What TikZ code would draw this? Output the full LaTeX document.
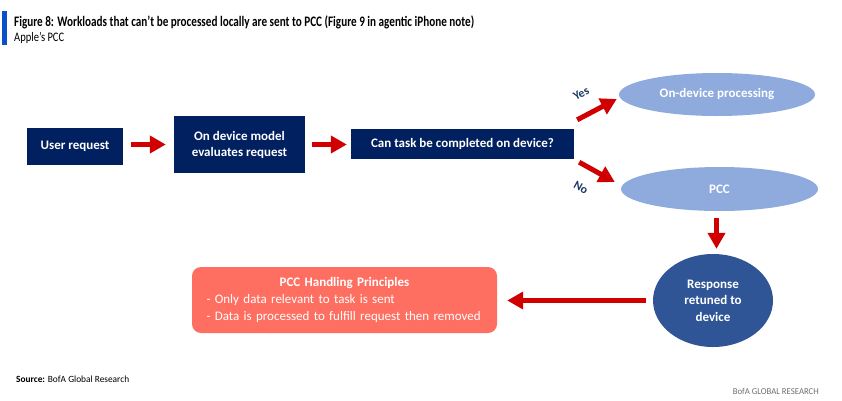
\documentclass[tikz,border=0pt]{standalone}
\usepackage{graphicx}
\usepackage{fontspec}
\setmainfont{Carlito}
\usetikzlibrary{arrows.meta,shapes.geometric}
\definecolor{bofanavy}{HTML}{002060}
\definecolor{lightblue}{HTML}{8FAADC}
\definecolor{respblue}{HTML}{2F5597}
\definecolor{salmon}{HTML}{FF6F61}
\definecolor{arrowred}{HTML}{D00000}
\definecolor{barblue}{HTML}{0A50C8}
\definecolor{lblnavy}{HTML}{1F3864}
\definecolor{brandgray}{HTML}{6E6E6E}

\begin{document}
\begin{tikzpicture}[x=1pt, y=-1pt,
        navybox/.style={rectangle, fill=bofanavy, text=white, align=center, inner sep=0pt,
            font=\bfseries\fontsize{13}{16}\selectfont},
        bluebubble/.style={ellipse, fill=lightblue, text=white, inner sep=0pt,
            font=\bfseries\fontsize{13}{16}\selectfont},
        redarrow/.style={arrowred, line width=5pt, -{Triangle[length=16pt, width=17pt]}},
        yesno/.style={text=lblnavy, inner sep=1pt, sloped,
            font=\bfseries\fontsize{12}{14}\selectfont}]
        \useasboundingbox (0,0) rectangle (842,400);

        % Heading
        \fill[barblue] (2,11) rectangle (7,45);
        \node[anchor=base west, inner sep=0pt, font=\bfseries\fontsize{14.5}{17}\selectfont] (title) at (14,26)
            {\resizebox{460pt}{\height}{Figure 8: Workloads that can't be processed locally are sent to PCC (Figure 9 in agentic iPhone note)}};
        \node[anchor=base west, inner sep=0pt, font=\fontsize{13}{15}\selectfont] (subtitle) at (14,41.5)
            {\resizebox{50pt}{\height}{Apple's PCC}};

        % Top row
        \node[navybox, minimum width=96pt, minimum height=37pt] (user) at (75,146.5) {User request};
        \node[navybox, minimum width=131pt, minimum height=57pt] (model) at (239.5,144.5) {On device model\\evaluates request};
        \node[navybox, minimum width=223pt, minimum height=30pt] (task) at (462.5,144) {Can task be completed on device?};

        % Outcomes
        \node[bluebubble, minimum width=196pt, minimum height=43pt] (ondevice) at (717,94.5) {On-device processing};
        \node[bluebubble, minimum width=197pt, minimum height=44pt] (pcc) at (719.5,189) {PCC};
        \node[ellipse, fill=respblue, text=white, align=center, inner sep=0pt, minimum width=120pt, minimum height=93pt,
            font=\bfseries\fontsize{13}{16.5}\selectfont] (response) at (713,300.5) {Response\\retuned to\\device};

        % Principles box
        \node[rectangle, rounded corners=9pt, fill=salmon, text=white, minimum width=305pt, minimum height=66pt,
            text width=276pt, align=left, font=\fontsize{13}{17}\selectfont] (principles) at (344.5,300)
            {{\centering\bfseries PCC Handling Principles\par}- Only data relevant to task is sent\\- Data is processed to fulfill request then removed};

        % Arrows
        \draw[redarrow, shorten <=8pt, shorten >=8pt] (model.west -| user.east) -- (model.west);
        \draw[redarrow, shorten <=7pt, shorten >=4pt] (model.east) -- (model.east -| task.west);
        \draw[redarrow] ([shift={(3,-9)}]task.north east) -- node[yesno, pos=.35, above=14pt] (yes) {Yes} ([shift={(-2,4.5)}]ondevice.west);
        \draw[redarrow] ([shift={(5,3)}]task.south east) -- node[yesno, pos=.34, below=14pt] (no) {No} ([shift={(-6,-7)}]pcc.west);
        \draw[redarrow, shorten <=7pt, shorten >=5pt] ([xshift=-3pt]pcc.south) -- ([xshift=-3pt]pcc.south |- response.north);
        \draw[redarrow, shorten <=7pt, shorten >=10pt] (response.west) -- (response.west -| principles.east);

        % Footer
        \node[anchor=base west, inner sep=0pt, font=\fontsize{9.5}{11}\selectfont] (source) at (16,382)
            {\resizebox{113pt}{\height}{\textbf{Source:} BofA Global Research}};
        \node[anchor=base east, inner sep=0pt, text=brandgray, font=\fontsize{9}{11}\selectfont] (brand) at (819,394)
            {\resizebox{86pt}{\height}{BofA GLOBAL RESEARCH}};
    \end{tikzpicture}
\end{document}
